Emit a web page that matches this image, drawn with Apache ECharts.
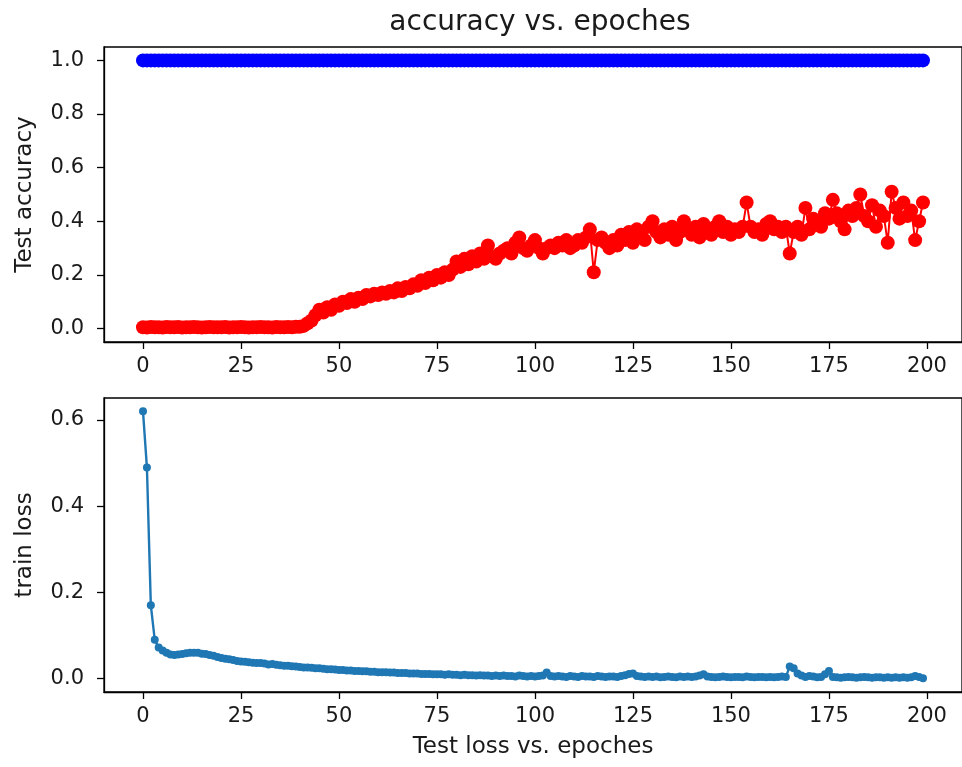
<!DOCTYPE html>
<html>
<head>
<meta charset="utf-8">
<script src="https://cdn.jsdelivr.net/npm/echarts@6/dist/echarts.min.js"></script>
<style>html,body{margin:0;padding:0;background:#fff}#c{width:962px;height:767px}</style>
</head>
<body>
<div id="c"></div>
<script>
const epochs = Array.from({length: 200}, (_, i) => i);
const xTicks = [0, 25, 50, 75, 100, 125, 150, 175, 200];
const accTicks = [0, 0.2, 0.4, 0.6, 0.8, 1.0];
const lossTicks = [0, 0.2, 0.4, 0.6];

const trainAcc = [
1,1,1,1,1,1,1,1,1,1,1,1,1,1,1,1,1,1,1,1,
1,1,1,1,1,1,1,1,1,1,1,1,1,1,1,1,1,1,1,1,
1,1,1,1,1,1,1,1,1,1,1,1,1,1,1,1,1,1,1,1,
1,1,1,1,1,1,1,1,1,1,1,1,1,1,1,1,1,1,1,1,
1,1,1,1,1,1,1,1,1,1,1,1,1,1,1,1,1,1,1,1,
1,1,1,1,1,1,1,1,1,1,1,1,1,1,1,1,1,1,1,1,
1,1,1,1,1,1,1,1,1,1,1,1,1,1,1,1,1,1,1,1,
1,1,1,1,1,1,1,1,1,1,1,1,1,1,1,1,1,1,1,1,
1,1,1,1,1,1,1,1,1,1,1,1,1,1,1,1,1,1,1,1,
1,1,1,1,1,1,1,1,1,1,1,1,1,1,1,1,1,1,1,1
];

const testAcc = [
0.005,0.004,0.006,0.005,0.005,0.004,0.006,0.005,0.005,0.006,0.004,0.005,0.005,0.006,0.005,0.004,0.005,0.006,0.005,0.005,
0.005,0.006,0.004,0.005,0.005,0.006,0.005,0.004,0.005,0.005,0.006,0.005,0.005,0.004,0.006,0.005,0.005,0.006,0.005,0.007,
0.007,0.01,0.02,0.03,0.05,0.07,0.06,0.08,0.07,0.09,0.085,0.1,0.095,0.11,0.1,0.115,0.11,0.125,0.12,0.13,
0.125,0.135,0.13,0.14,0.135,0.15,0.14,0.155,0.15,0.165,0.16,0.18,0.17,0.19,0.18,0.2,0.19,0.21,0.2,0.22,
0.25,0.23,0.26,0.24,0.27,0.25,0.28,0.26,0.31,0.27,0.26,0.28,0.29,0.3,0.28,0.32,0.34,0.3,0.29,0.31,
0.33,0.3,0.28,0.3,0.31,0.3,0.32,0.31,0.33,0.3,0.31,0.33,0.32,0.34,0.37,0.21,0.33,0.34,0.32,0.3,
0.33,0.31,0.35,0.33,0.36,0.32,0.37,0.35,0.33,0.38,0.4,0.36,0.34,0.37,0.35,0.38,0.33,0.36,0.4,0.37,
0.35,0.38,0.34,0.39,0.36,0.35,0.38,0.4,0.36,0.38,0.35,0.37,0.36,0.38,0.47,0.38,0.36,0.37,0.35,0.39,
0.4,0.37,0.38,0.36,0.38,0.28,0.36,0.38,0.35,0.45,0.37,0.41,0.39,0.38,0.43,0.41,0.48,0.43,0.4,0.37,
0.44,0.42,0.45,0.5,0.42,0.4,0.46,0.38,0.44,0.42,0.32,0.51,0.45,0.41,0.47,0.42,0.44,0.33,0.4,0.47
];

const trainLoss = [
0.62,0.49,0.17,0.09,0.072,0.065,0.06,0.056,0.055,0.056,0.057,0.059,0.06,0.06,0.06,0.058,0.057,0.055,0.053,0.05,
0.048,0.046,0.045,0.043,0.041,0.04,0.039,0.038,0.037,0.036,0.036,0.035,0.033,0.034,0.032,0.031,0.03,0.03,0.029,0.028,
0.027,0.026,0.026,0.025,0.024,0.024,0.023,0.022,0.022,0.021,0.02,0.02,0.019,0.019,0.018,0.018,0.017,0.017,0.016,0.016,
0.015,0.015,0.015,0.014,0.014,0.013,0.013,0.013,0.012,0.012,0.012,0.011,0.011,0.011,0.01,0.01,0.01,0.009,0.01,0.009,
0.009,0.008,0.009,0.008,0.008,0.007,0.008,0.007,0.007,0.006,0.007,0.006,0.007,0.006,0.006,0.005,0.007,0.006,0.005,0.006,
0.005,0.006,0.007,0.014,0.006,0.005,0.006,0.005,0.004,0.006,0.005,0.004,0.006,0.005,0.005,0.004,0.006,0.005,0.004,0.005,
0.005,0.004,0.006,0.008,0.011,0.012,0.006,0.005,0.004,0.005,0.004,0.005,0.003,0.004,0.005,0.004,0.003,0.005,0.004,0.005,
0.004,0.005,0.007,0.01,0.005,0.004,0.003,0.004,0.005,0.004,0.003,0.004,0.004,0.003,0.005,0.004,0.003,0.004,0.004,0.003,
0.004,0.003,0.004,0.005,0.004,0.028,0.024,0.012,0.007,0.004,0.006,0.005,0.003,0.004,0.01,0.018,0.004,0.003,0.002,0.003,
0.004,0.003,0.002,0.003,0.004,0.003,0.002,0.003,0.003,0.002,0.003,0.002,0.003,0.002,0.003,0.002,0.003,0.006,0.004,0.001
];

const FONT = 'DejaVu Sans';
const TXT = '#1a1a1a';
function pairs(ys) { return epochs.map((x, i) => [x, ys[i]]); }

function xAxisCfg(gridIndex, withName) {
  const a = {
    type: 'value', gridIndex, min: -9.95, max: 208.95,
    splitLine: {show: false},
    axisLine: {show: true, onZero: false, lineStyle: {color: '#000', width: 1.3}},
    axisTick: {show: true, inside: false, length: 7, customValues: xTicks, lineStyle: {color: '#000', width: 1.3}},
    axisLabel: {customValues: xTicks, color: TXT, fontFamily: FONT, fontSize: 21, margin: 14}
  };
  if (withName) {
    a.name = 'Test loss vs. epoches';
    a.nameLocation = 'middle';
    a.nameGap = 44;
    a.nameTextStyle = {color: TXT, fontFamily: FONT, fontSize: 23};
  }
  return a;
}
function yAxisCfg(gridIndex, min, max, ticks, name) {
  return {
    type: 'value', gridIndex, min, max,
    name, nameLocation: 'middle', nameGap: 67,
    nameTextStyle: {color: TXT, fontFamily: FONT, fontSize: 23},
    splitLine: {show: false},
    axisLine: {show: true, onZero: false, lineStyle: {color: '#000', width: 1.3}},
    axisTick: {show: true, inside: false, length: 7, customValues: ticks, lineStyle: {color: '#000', width: 1.3}},
    axisLabel: {customValues: ticks, color: TXT, fontFamily: FONT, fontSize: 21, margin: 20,
      formatter: v => v.toFixed(1)}
  };
}

const chart = echarts.init(document.getElementById('c'), null, {renderer: 'canvas'});
chart.setOption({
  animation: false,
  backgroundColor: '#fff',
  title: {text: 'accuracy vs. epoches', left: 535, textAlign: 'center', top: 4,
    textStyle: {color: TXT, fontFamily: FONT, fontSize: 28, fontWeight: 'normal'}},
  grid: [
    {left: 104, top: 47, width: 859, height: 295, show: true, borderColor: '#000', borderWidth: 1.3, backgroundColor: 'transparent'},
    {left: 104, top: 398, width: 859, height: 294, show: true, borderColor: '#000', borderWidth: 1.3, backgroundColor: 'transparent'}
  ],
  xAxis: [xAxisCfg(0, false), xAxisCfg(1, true)],
  yAxis: [
    yAxisCfg(0, -0.05, 1.05, accTicks, 'Test accuracy'),
    yAxisCfg(1, -0.031, 0.651, lossTicks, 'train loss')
  ],
  series: [
    {type: 'line', xAxisIndex: 0, yAxisIndex: 0, data: pairs(trainAcc),
      symbol: 'circle', symbolSize: 14, showAllSymbol: true,
      lineStyle: {color: '#0000ff', width: 2}, itemStyle: {color: '#0000ff', borderWidth: 0}},
    {type: 'line', xAxisIndex: 0, yAxisIndex: 0, data: pairs(testAcc),
      symbol: 'circle', symbolSize: 14, showAllSymbol: true,
      lineStyle: {color: '#ff0000', width: 2}, itemStyle: {color: '#ff0000', borderWidth: 0}},
    {type: 'line', xAxisIndex: 1, yAxisIndex: 1, data: pairs(trainLoss),
      symbol: 'circle', symbolSize: 8, showAllSymbol: true,
      lineStyle: {color: '#1f77b4', width: 2.4}, itemStyle: {color: '#1f77b4', borderWidth: 0}}
  ]
});
</script>
</body>
</html>
